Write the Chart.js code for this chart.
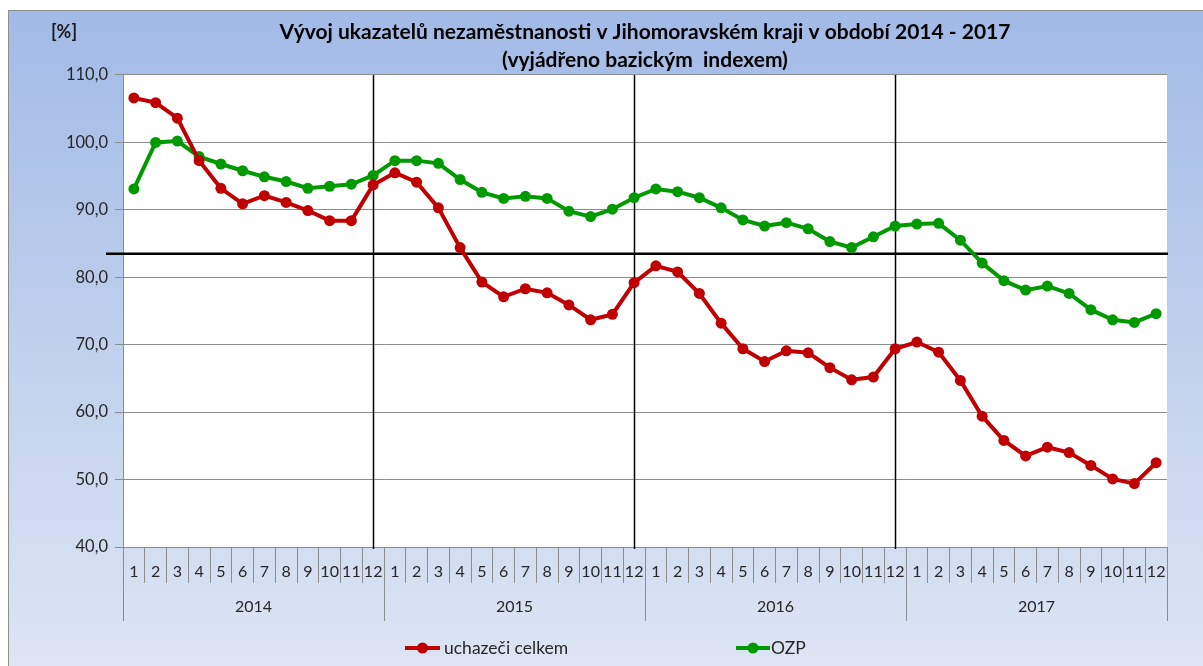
<!DOCTYPE html>
<html><head><meta charset="utf-8">
<script src="https://cdn.jsdelivr.net/npm/chart.js@4.4.0/dist/chart.umd.min.js"></script>
<style>html,body{margin:0;padding:0;background:#fff;overflow:hidden}#wrap{width:1203px;height:666px;position:relative}canvas{display:block}</style>
</head><body><div id="wrap"><canvas id="c" width="1203" height="666"></canvas></div>
<script>
const years = ['2014', '2015', '2016', '2017'];
const months = ['1','2','3','4','5','6','7','8','9','10','11','12'];
const uchazeci = [106.6,105.9,103.6,97.3,93.2,90.9,92.1,91.1,89.9,88.4,88.4,93.7,
                  95.5,94.1,90.3,84.4,79.3,77.1,78.3,77.7,75.9,73.7,74.5,79.2,
                  81.7,80.8,77.6,73.2,69.4,67.5,69.1,68.8,66.6,64.8,65.2,69.4,
                  70.4,68.9,64.7,59.4,55.8,53.5,54.8,54.0,52.1,50.1,49.4,52.5];
const ozp = [93.1,100.0,100.2,97.9,96.8,95.8,94.9,94.2,93.2,93.5,93.8,95.1,
             97.3,97.3,96.9,94.5,92.6,91.7,92.0,91.7,89.8,89.0,90.1,91.8,
             93.1,92.7,91.8,90.3,88.5,87.6,88.1,87.2,85.3,84.4,86.0,87.6,
             87.9,88.0,85.5,82.1,79.5,78.1,78.7,77.6,75.2,73.7,73.3,74.6];
const seriesNames = ['uchazeči celkem', 'OZP'];
const referenceLevel = 83.5;
const yMin = 40, yMax = 110, yStep = 10;
const titleLines = ['Vývoj ukazatelů nezaměstnanosti v Jihomoravském kraji v období 2014 - 2017', '(vyjádřeno bazickým  indexem)'];
const unitLabel = '[%]';

const labels = [];
years.forEach(() => months.forEach(m => labels.push(m)));

const FONT = 'Lato, "Open Sans", sans-serif';
const TXT = '#262626';
const GRID = '#8c8c8c';
const RED = '#c00000';
const GREEN = '#009a00';

const decorPlugin = {
  id: 'decor',
  beforeDraw(chart) {
    const ctx = chart.ctx, ca = chart.chartArea;
    ctx.save();
    ctx.fillStyle = '#ffffff';
    ctx.fillRect(0, 0, chart.width, chart.height);
    const g = ctx.createLinearGradient(0, 10, 0, chart.height);
    g.addColorStop(0, '#a1bae6');
    g.addColorStop(1, '#dde5f4');
    ctx.fillStyle = g;
    ctx.fillRect(8, 10, chart.width - 8, chart.height - 10);
    ctx.strokeStyle = '#8e8e8e';
    ctx.lineWidth = 1;
    ctx.strokeRect(8.5, 10.5, chart.width + 10, chart.height + 10);
    ctx.fillStyle = '#ffffff';
    ctx.fillRect(ca.left, ca.top, ca.right - ca.left, ca.bottom - ca.top);
    ctx.restore();
  },
  beforeDatasetsDraw(chart) {
    const ctx = chart.ctx, ca = chart.chartArea;
    const xs = chart.scales.x, ys = chart.scales.y;
    ctx.save();
    ctx.strokeStyle = '#000';
    ctx.lineWidth = 1.5;
    for (let i = 1; i < years.length; i++) {
      const x = Math.round(xs.getPixelForValue(i * months.length - 1)) + 0.5;
      ctx.beginPath(); ctx.moveTo(x, ca.top); ctx.lineTo(x, ca.bottom + 2); ctx.stroke();
    }
    const yr = ys.getPixelForValue(referenceLevel);
    ctx.lineWidth = 2.5;
    ctx.beginPath(); ctx.moveTo(106, yr); ctx.lineTo(ca.right + 1, yr); ctx.stroke();
    ctx.restore();
  },
  afterDraw(chart) {
    const ctx = chart.ctx, ca = chart.chartArea;
    const xs = chart.scales.x;
    ctx.save();
    const n = months.length;
    const bound = (k) => {
      if (k === 0) return xs.left;
      if (k === labels.length) return xs.right;
      return (xs.getPixelForValue(k - 1) + xs.getPixelForValue(k)) / 2;
    };
    ctx.strokeStyle = GRID;
    ctx.lineWidth = 1;
    for (let i = 0; i <= years.length; i++) {
      const x = Math.round(bound(i * n)) + 0.5;
      ctx.beginPath(); ctx.moveTo(x, ca.bottom); ctx.lineTo(x, 621); ctx.stroke();
    }
    ctx.fillStyle = TXT;
    ctx.font = '16px ' + FONT;
    ctx.textAlign = 'center';
    ctx.textBaseline = 'middle';
    years.forEach((y, i) => {
      const cx = (bound(i * n) + bound((i + 1) * n)) / 2;
      ctx.fillText(y, cx, 607);
    });
    ctx.font = 'bold 18px ' + FONT;
    ctx.fillStyle = '#1a1a1a';
    ctx.fillText(unitLabel, 64, 32);
    const items = [{x0: 405, x1: 440, tx: 444}, {x0: 736, x1: 770, tx: 771}];
    chart.data.datasets.forEach((ds, i) => {
      const it = items[i], y = 648;
      ctx.strokeStyle = ds.borderColor;
      ctx.lineWidth = 4;
      ctx.beginPath(); ctx.moveTo(it.x0, y); ctx.lineTo(it.x1, y); ctx.stroke();
      ctx.fillStyle = ds.borderColor;
      ctx.beginPath(); ctx.arc((it.x0 + it.x1) / 2, y, 5.5, 0, Math.PI * 2); ctx.fill();
      ctx.fillStyle = TXT;
      ctx.font = '17.5px ' + FONT;
      ctx.textAlign = 'left';
      ctx.fillText(ds.label, it.tx, y);
    });
    ctx.restore();
  }
};

new Chart(document.getElementById('c'), {
  type: 'line',
  data: {
    labels: labels,
    datasets: [
      {label: seriesNames[0], data: uchazeci, borderColor: RED, backgroundColor: RED,
       pointBackgroundColor: RED, pointBorderColor: RED, borderWidth: 4, pointRadius: 5.5, pointBorderWidth: 0, tension: 0},
      {label: seriesNames[1], data: ozp, borderColor: GREEN, backgroundColor: GREEN,
       pointBackgroundColor: GREEN, pointBorderColor: GREEN, borderWidth: 4, pointRadius: 5.5, pointBorderWidth: 0, tension: 0}
    ]
  },
  options: {
    responsive: false,
    devicePixelRatio: 1,
    animation: false,
    layout: {padding: {left: 0, right: 36, top: 0, bottom: 0}},
    plugins: {
      legend: {display: false},
      tooltip: {enabled: false},
      title: {
        display: true, text: titleLines, fullSize: false, color: '#000',
        font: {family: FONT, size: 21, weight: 'bold', lineHeight: 1.3333},
        padding: {top: 18, bottom: 1}
      }
    },
    scales: {
      x: {
        type: 'category', offset: true,
        grid: {display: true, drawOnChartArea: false, drawTicks: true, tickLength: 36, offset: true, color: GRID},
        border: {display: true, color: GRID},
        ticks: {autoSkip: false, maxRotation: 0, minRotation: 0, padding: -21, color: TXT, font: {family: FONT, size: 16}},
        afterFit(s) { s.height = 119; }
      },
      y: {
        min: yMin, max: yMax,
        grid: {color: GRID, tickLength: 8, drawTicks: true},
        border: {display: true, color: GRID},
        ticks: {stepSize: yStep, padding: 7, color: TXT, font: {family: FONT, size: 16.5},
                callback: v => v.toFixed(1).replace('.', ',')},
        afterFit(s) { s.width = 123; }
      }
    }
  },
  plugins: [decorPlugin]
});
</script></body></html>
